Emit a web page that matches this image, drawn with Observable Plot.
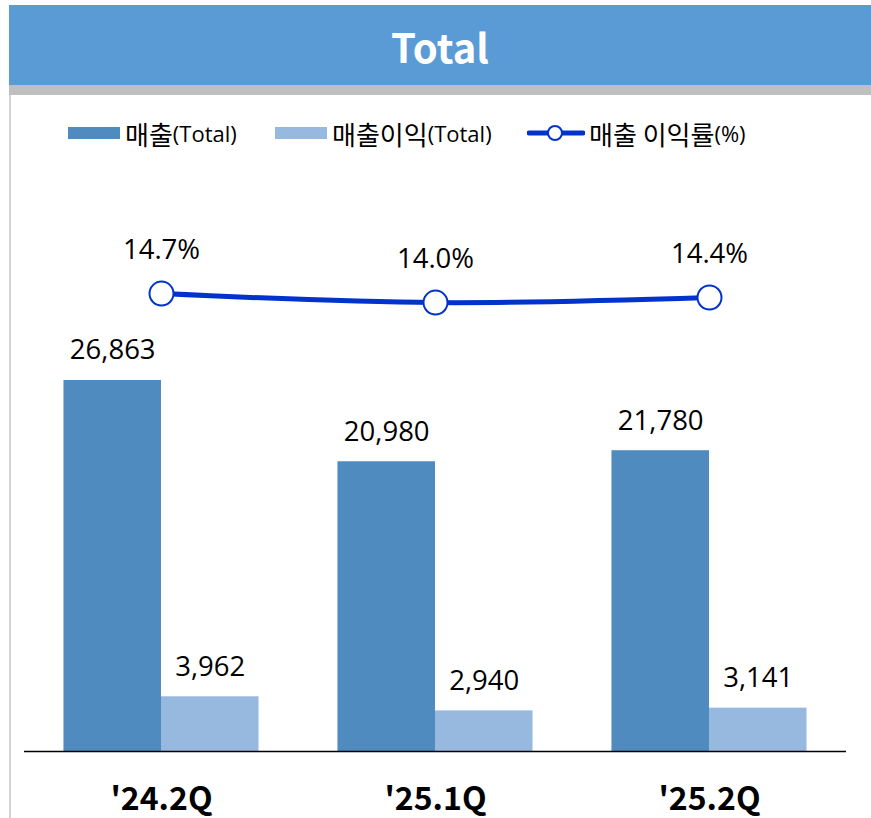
<!DOCTYPE html>
<html>
<head>
<meta charset="utf-8">
<script src="https://cdn.jsdelivr.net/npm/d3@7"></script>
<script src="https://cdn.jsdelivr.net/npm/@observablehq/plot@0.6"></script>
<style>
  html, body { margin: 0; padding: 0; background: #fff; }
  body { width: 871px; height: 818px; position: relative; overflow: hidden;
         font-family: "Open Sans", "Noto Sans CJK KR", sans-serif; }
  #header { position: absolute; left: 9px; top: 5px; width: 862px; height: 80px;
            background: #5B9BD5; color: #fff; text-align: center;
            font-family: "Noto Sans CJK KR", sans-serif; font-weight: bold;
            font-size: 40px; line-height: 82px; }
  #gray { position: absolute; left: 9px; top: 85px; width: 862px; height: 10px; background: #BFBFBF; }
  #leftline { position: absolute; left: 9px; top: 95px; width: 2px; height: 723px; background: #D4D4D4; }
  #legend { position: absolute; top: 118px; left: 0; height: 30px; width: 871px; }
  .item { position: absolute; top: 0; display: flex; align-items: center; height: 30px;
          font-family: "Noto Sans CJK KR", sans-serif; font-size: 26px; color: #000; white-space: nowrap; }
  .item .lat { font-family: "Open Sans", sans-serif; font-size: 22px; }
  .sw { display: inline-block; width: 52px; height: 12px; margin-right: 5px; }
  #chart { position: absolute; left: 0; top: 95px; }
</style>
</head>
<body>
<div id="header">Total</div>
<div id="gray"></div>
<div id="leftline"></div>
<div id="legend"></div>
<div id="chart"></div>
<script>
// ---- data ----
const quarters = ["'24.2Q", "'25.1Q", "'25.2Q"];
const sales = [26863, 20980, 21780];      // 매출(Total)
const profit = [3962, 2940, 3141];        // 매출이익(Total)
const margin = [14.7, 14.0, 14.4];        // 매출 이익률(%)
const seriesNames = ["매출(Total)", "매출이익(Total)", "매출 이익률(%)"];

// ---- styles ----
const darkBlue = "#4F8BBE";
const lightBlue = "#97B9E0";
const lineBlue = "#0033CC";
const barHalf = 0.356;              // half group width in x units
const yMax = 47500;                 // primary axis (hidden)
const rateDomain = [-20.9, 30.1];   // secondary axis (hidden) for the rate line

const rows = quarters.map((q, i) => ({i, q, sales: sales[i], profit: profit[i], margin: margin[i]}));
const rateY = d3.scaleLinear().domain(rateDomain).range([0, yMax]);
const fmt = d3.format(",");

// ---- legend ----
const legend = document.getElementById("legend");
function splitLabel(s) {
  const k = s.indexOf("(");
  return `${s.slice(0, k)}<span class="lat">${s.slice(k)}</span>`;
}
legend.innerHTML = `
  <div class="item" style="left:68px"><span class="sw" style="background:${darkBlue}"></span>${splitLabel(seriesNames[0])}</div>
  <div class="item" style="left:275px"><span class="sw" style="background:${lightBlue}"></span>${splitLabel(seriesNames[1])}</div>
  <div class="item" style="left:527px"><svg width="58" height="20" style="margin-right:4px">
     <line x1="2" y1="10" x2="56" y2="10" stroke="${lineBlue}" stroke-width="5" stroke-linecap="round"/>
     <circle cx="28" cy="10" r="7" fill="#fff" stroke="${lineBlue}" stroke-width="2"/></svg>${splitLabel(seriesNames[2])}</div>`;

// ---- chart ----
const chart = Plot.plot({
  width: 871,
  height: 723,
  marginLeft: 24,
  marginRight: 25,
  marginTop: 0,
  marginBottom: 67,
  x: {domain: [-0.5, 2.5], axis: null, label: null},
  y: {domain: [0, yMax], axis: null},
  style: {fontFamily: "'Open Sans', 'Noto Sans CJK KR', sans-serif", background: "transparent", overflow: "visible"},
  marks: [
    Plot.rectY(rows, {x1: d => d.i - barHalf, x2: d => d.i, y: "sales", fill: darkBlue}),
    Plot.rectY(rows, {x1: d => d.i, x2: d => d.i + barHalf, y: "profit", fill: lightBlue}),
    Plot.ruleY([0], {stroke: "#000", strokeWidth: 1.5}),
    Plot.text(rows, {x: d => d.i - barHalf / 2, y: "sales", text: d => fmt(d.sales), dy: -30, fontSize: 27.5, fill: "#000"}),
    Plot.text(rows, {x: d => d.i + barHalf / 2, y: "profit", text: d => fmt(d.profit), dy: -30, fontSize: 27.5, fill: "#000"}),
    Plot.line(rows, {x: "i", y: d => rateY(d.margin), stroke: lineBlue, strokeWidth: 5, curve: "catmull-rom"}),
    Plot.dot(rows, {x: "i", y: d => rateY(d.margin), r: 12, fill: "#fff", stroke: lineBlue, strokeWidth: 2}),
    Plot.text(rows, {x: "i", y: d => rateY(d.margin), text: d => d.margin.toFixed(1) + "%", dy: -43, fontSize: 27.5, fill: "#000"}),
    Plot.axisX({ticks: [0, 1, 2], tickFormat: i => quarters[i], tickSize: 0, tickPadding: 36, label: null,
                fontSize: 32, fontWeight: "bold", fill: "#000",
                fontFamily: "'Noto Sans CJK KR', sans-serif"})
  ]
});
document.getElementById("chart").appendChild(chart);
</script>
</body>
</html>
